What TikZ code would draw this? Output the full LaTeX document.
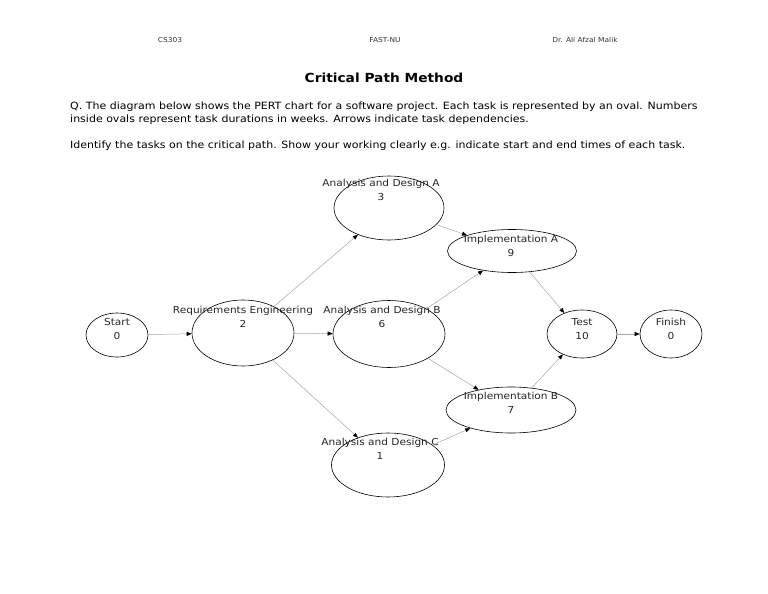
\documentclass[tikz,border=0pt]{standalone}
\usepackage{fontspec}
\setmainfont[FakeStretch=1.1]{DejaVu Sans}
\usetikzlibrary{arrows.meta,shapes.geometric}
\begin{document}
\begin{tikzpicture}[x=1pt,y=-1pt,
  oval/.style={draw=black,ellipse,inner sep=0pt,line width=0.6pt},
  lbl/.style={align=center,font=\fontsize{9.6}{14}\selectfont,text=black!85},
  dep/.style={draw=black!35,line width=0.5pt,-{Triangle[length=5pt,width=4pt,color=black]},shorten >=0pt},
  hdr/.style={font=\fontsize{6.8}{8}\selectfont,text=black!80},
  para/.style={anchor=base west,font=\fontsize{10}{11}\selectfont,inner sep=0pt}]
\useasboundingbox (0,0) rectangle (768,594);
\fill[white] (0,0) rectangle (768,594);
% header
\node[hdr] (h1) at (170,40) {CS303};
\node[hdr] (h2) at (385,40) {FAST-NU};
\node[hdr] (h3) at (585,40) {Dr. Ali Afzal Malik};
\node[font=\fontsize{12.5}{14}\selectfont\bfseries] (title) at (384,78) {Critical Path Method};
\node[para] (p1) at (70,109) {Q. The diagram below shows the PERT chart for a software project. Each task is represented by an oval. Numbers};
\node[para] (p2) at (70,122) {inside ovals represent task durations in weeks. Arrows indicate task dependencies.};
\node[para] (p3) at (70,148) {Identify the tasks on the critical path. Show your working clearly e.g. indicate start and end times of each task.};
% ovals
\node[oval,minimum width=62pt,minimum height=44pt] (start) at (117,335) {};
\node[oval,minimum width=102pt,minimum height=66pt] (req) at (243,333) {};
\node[oval,minimum width=110pt,minimum height=64pt] (ada) at (389,208) {};
\node[oval,minimum width=112pt,minimum height=67pt] (adb) at (389,334) {};
\node[oval,minimum width=113pt,minimum height=64pt] (adc) at (388,465) {};
\node[oval,minimum width=129pt,minimum height=43pt] (impa) at (512,251) {};
\node[oval,minimum width=130pt,minimum height=46pt] (impb) at (511,410) {};
\node[oval,minimum width=70pt,minimum height=48pt] (test) at (582,334) {};
\node[oval,minimum width=62pt,minimum height=48pt] (fin) at (671,334) {};
% labels
\node[lbl] (start-l) at (117,329) {Start\\0};
\node[lbl] (req-l) at (243,317) {Requirements Engineering\\2};
\node[lbl] (ada-l) at (381,190) {Analysis and Design A\\3};
\node[lbl] (adb-l) at (382,317) {Analysis and Design B\\6};
\node[lbl] (adc-l) at (380,449) {Analysis and Design C\\1};
\node[lbl] (impa-l) at (511,246) {Implementation A\\9};
\node[lbl] (impb-l) at (511,403) {Implementation B\\7};
\node[lbl] (test-l) at (582,329) {Test\\10};
\node[lbl] (fin-l) at (671,329) {Finish\\0};
% dependencies
\draw[dep] (start) -- (req);
\draw[dep] (req) -- (ada);
\draw[dep] (req) -- (adb);
\draw[dep] (req) -- (adc);
\draw[dep] (ada) -- (impa);
\draw[dep] (adb) -- (impa);
\draw[dep] (adb) -- (impb);
\draw[dep] (adc) -- (impb);
\draw[dep] (impa) -- (test);
\draw[dep] (impb) -- (test);
\draw[dep] (test) -- (fin);
\end{tikzpicture}
\end{document}
